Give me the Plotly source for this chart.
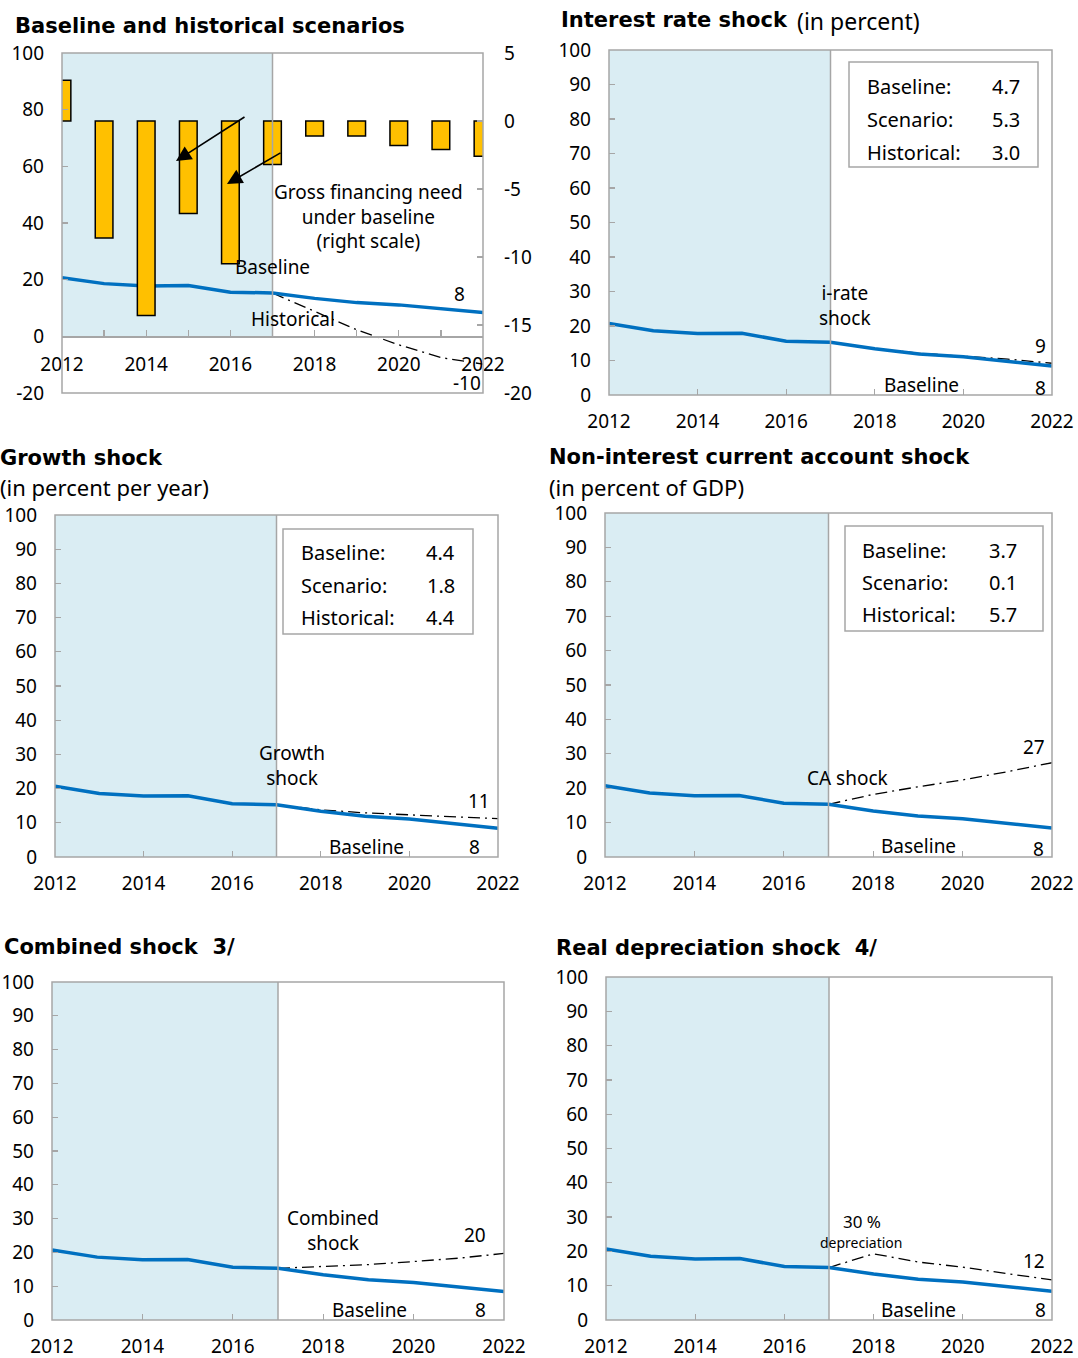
import plotly.graph_objects as go

W, H = 1078, 1358

# ---------------- data ----------------
years = list(range(2012, 2023))
proj_years = list(range(2017, 2023))
baseline = [20.7, 18.6, 17.8, 17.9, 15.6, 15.3, 13.4, 11.9, 11.1, 9.8, 8.4]
gfn_baseline = [3.0, -8.6, -14.3, -6.8, -10.5, -3.2, -1.1, -1.1, -1.8, -2.1, -2.6]
historical = [15.3, 8.8, 2.3, -3.0, -7.5, -9.8]
irate_shock = [15.3, 13.4, 12.1, 11.3, 10.4, 9.2]
growth_shock = [15.3, 13.8, 12.9, 12.3, 11.7, 11.2]
ca_shock = [15.3, 18.2, 20.4, 22.4, 24.8, 27.4]
combined_shock = [15.3, 15.8, 16.4, 17.3, 18.3, 19.7]
depreciation_shock = [15.3, 19.3, 16.9, 15.4, 13.5, 11.7]

left_ticks_p1 = [-20, 0, 20, 40, 60, 80, 100]
right_ticks_p1 = [-20, -15, -10, -5, 0, 5]
ticks_0_100 = list(range(0, 101, 10))
year_ticks_p1 = years
year_labels_p1 = [str(y) if y % 2 == 0 else "" for y in years]
year_ticks = [2012, 2014, 2016, 2018, 2020, 2022]

box_labels = ["Baseline:", "Scenario:", "Historical:"]
irate_box = [4.7, 5.3, 3.0]
growth_box = [4.4, 1.8, 4.4]
ca_box = [3.7, 0.1, 5.7]

# ---------------- style ----------------
FONT = "Noto Sans"
BOLD_FONT = "DejaVu Sans"
BLUE = "#0070C0"
GRAY = "#A6A6A6"
SHADE = "#DAEDF3"
BAR = "#FFC000"
DASHDOT = "12px,5px,2px,5px"
TICKFONT = dict(family=FONT, size=19, color="#000000")


def px_x(x):
    return x / W


def px_y(y):
    return 1 - y / H


def dom_x(a, b):
    return [a / W, b / W]


def dom_y(top, bottom):
    return [1 - bottom / H, 1 - top / H]


# panel boxes (left, right, top, bottom) in pixels
P = {
    1: (62, 483, 53, 393),
    2: (609, 1052, 50, 395),
    3: (55, 498, 515, 857),
    4: (605, 1052, 513, 857),
    5: (52, 504, 982, 1320),
    6: (606, 1052, 977, 1320),
}

fig = go.Figure()
layout = dict(
    width=W, height=H, autosize=False,
    margin=dict(l=0, r=0, t=0, b=0, pad=0, autoexpand=False),
    paper_bgcolor="white", plot_bgcolor="white",
    showlegend=False, hovermode=False,
    font=dict(family=FONT, size=19, color="#000000"),
)
shapes = []
annotations = []

# ---------------- axes ----------------
for n in range(1, 7):
    l, r, t, b = P[n]
    xs = "" if n == 1 else str(n)
    xa = dict(
        domain=dom_x(l, r), range=[2012, 2022], ticks="inside", ticklen=6,
        tickcolor=GRAY, tickwidth=1.3, showgrid=False, zeroline=False,
        tickfont=TICKFONT, ticklabelstandoff=13, fixedrange=True,
    )
    ya = dict(
        domain=dom_y(t, b), ticks="inside", ticklen=6, tickcolor=GRAY,
        tickwidth=1.3, showgrid=False, zeroline=False, tickfont=TICKFONT,
        ticklabelstandoff=17, fixedrange=True,
    )
    if n == 1:
        zero_px = b - (b - t) * 20 / 120
        xa.update(anchor="free", position=px_y(zero_px), tickmode="array",
                  tickvals=year_ticks_p1, ticktext=year_labels_p1,
                  showline=True, linecolor=GRAY, linewidth=1.5,
                  ticklabelstandoff=10)
        ya.update(anchor="x", range=[-20, 100], tickmode="array",
                  tickvals=left_ticks_p1, ticktext=[str(v) for v in left_ticks_p1])
    else:
        xa.update(anchor="y" + xs, tickmode="array", tickvals=year_ticks)
        ya.update(anchor="x" + xs, range=[0, 100], tickmode="array",
                  tickvals=ticks_0_100)
    layout["xaxis" + xs] = xa
    layout["yaxis" + xs] = ya
    # frame
    shapes.append(dict(type="rect", xref=f"x{xs} domain", yref=f"y{xs} domain",
                       x0=0, x1=1, y0=0, y1=1, line=dict(color=GRAY, width=1.5),
                       layer="above"))
    # historical shading and divider
    shapes.append(dict(type="rect", xref="x" + xs, yref="y" + xs, x0=2012, x1=2017,
                       y0=0, y1=100, fillcolor=SHADE, line=dict(width=0),
                       layer="below"))
    shapes.append(dict(type="line", xref="x" + xs, yref="y" + xs, x0=2017, x1=2017,
                       y0=0, y1=100, line=dict(color=GRAY, width=1.5),
                       layer="above"))

# right axis for panel 1 (gross financing need)
layout["yaxis7"] = dict(
    overlaying="y", side="right", anchor="x", range=[-20, 5], tickmode="array",
    tickvals=right_ticks_p1, ticktext=[str(v) for v in right_ticks_p1],
    ticks="inside", ticklen=6, tickcolor=GRAY,
    tickwidth=1.3, showgrid=False, zeroline=False, tickfont=TICKFONT,
    ticklabelstandoff=20, fixedrange=True,
)

# ---------------- traces ----------------
fig.add_trace(go.Bar(x=years, y=gfn_baseline, xaxis="x", yaxis="y7", width=0.42,
                     marker=dict(color=BAR, line=dict(color="#000000", width=1.5))))
fig.add_trace(go.Scatter(x=proj_years, y=historical, xaxis="x", yaxis="y", mode="lines",
                         line=dict(color="#000000", width=1.3, dash=DASHDOT)))
fig.add_trace(go.Scatter(x=years, y=baseline, xaxis="x", yaxis="y", mode="lines",
                         line=dict(color=BLUE, width=3.5)))

scen = {2: irate_shock, 3: growth_shock, 4: ca_shock, 5: combined_shock,
        6: depreciation_shock}
for n, s in scen.items():
    fig.add_trace(go.Scatter(x=proj_years, y=s, xaxis=f"x{n}", yaxis=f"y{n}",
                             mode="lines",
                             line=dict(color="#000000", width=1.3, dash=DASHDOT)))
    fig.add_trace(go.Scatter(x=years, y=baseline, xaxis=f"x{n}", yaxis=f"y{n}",
                             mode="lines", line=dict(color=BLUE, width=3.5)))


# ---------------- text ----------------
def ann(text, x, y, size=19, xanchor="center", align="center", family=FONT):
    annotations.append(dict(text=text, x=px_x(x), y=px_y(y), xref="paper",
                            yref="paper", xanchor=xanchor, yanchor="middle",
                            showarrow=False, align=align,
                            font=dict(family=family, size=size, color="#000000")))


# titles
ann("<b>Baseline and historical scenarios</b>", 13, 26, size=21, xanchor="left",
    family=BOLD_FONT)
ann("<b>Interest rate shock</b>", 559, 20, size=21, xanchor="left", family=BOLD_FONT)
ann("(in percent)", 795, 21, size=23, xanchor="left")
ann("<b>Growth shock</b>", -2, 458, size=21, xanchor="left", family=BOLD_FONT)
ann("(in percent per year)", -2, 487, size=22, xanchor="left")
ann("<b>Non-interest current account shock</b>", 547, 457, size=21, xanchor="left",
    family=BOLD_FONT)
ann("(in percent of GDP)", 547, 487, size=22, xanchor="left")
ann("<b>Combined shock  3/</b>", 2, 947, size=21, xanchor="left", family=BOLD_FONT)
ann("<b>Real depreciation shock  4/</b>", 554, 948, size=21, xanchor="left",
    family=BOLD_FONT)

# panel 1
ann("Gross financing need<br>under baseline<br>(right scale)", 368, 216)
ann("Baseline", 273, 267)
ann("Historical", 293, 319)
ann(f"{round(baseline[-1])}", 459, 294)
ann(f"{round(historical[-1])}", 467, 383)
for (hx, hy, tx, ty) in [(176, 161, 246, 116), (227, 184, 282, 152)]:
    annotations.append(dict(text="", x=px_x(hx), y=px_y(hy), xref="paper", yref="paper",
                            ax=tx - hx, ay=ty - hy, axref="pixel", ayref="pixel",
                            showarrow=True, arrowhead=2, arrowsize=1.9,
                            arrowwidth=1.6, arrowcolor="#000000"))

# panel 2
ann("i-rate<br>shock", 845, 305)
ann(f"{round(irate_shock[-1])}", 1040, 346)
ann(f"{round(baseline[-1])}", 1040, 388)
ann("Baseline", 921, 385)

# panel 3
ann("Growth<br>shock", 292, 765)
ann(f"{round(growth_shock[-1])}", 479, 801)
ann(f"{round(baseline[-1])}", 474, 847)
ann("Baseline", 366, 847)

# panel 4
ann("CA shock", 848, 778)
ann(f"{round(ca_shock[-1])}", 1034, 747)
ann(f"{round(baseline[-1])}", 1038, 849)
ann("Baseline", 918, 846)

# panel 5
ann("Combined<br>shock", 333, 1230)
ann(f"{round(combined_shock[-1])}", 475, 1235)
ann(f"{round(baseline[-1])}", 480, 1310)
ann("Baseline", 369, 1310)

# panel 6
ann("30 %", 862, 1221, size=17)
ann("depreciation", 861, 1242, size=14)
ann(f"{round(depreciation_shock[-1])}", 1034, 1261)
ann(f"{round(baseline[-1])}", 1040, 1310)
ann("Baseline", 918, 1310)

# stat boxes
boxes = [
    ((849, 1038, 62, 167), 865, 1022, [87, 119, 152], irate_box),
    ((283, 473, 529, 634), 299, 457, [552, 585, 618], growth_box),
    ((845, 1043, 526, 631), 860, 1019, [550, 582, 615], ca_box),
]
for (bl, br, bt, bb), lx, vx, ys, vals in boxes:
    shapes.append(dict(type="rect", xref="paper", yref="paper", x0=px_x(bl),
                       x1=px_x(br), y0=px_y(bb), y1=px_y(bt), fillcolor="white",
                       line=dict(color=GRAY, width=1.5), layer="above"))
    for lab, yy, v in zip(box_labels, ys, vals):
        ann(lab, lx, yy, size=20, xanchor="left", align="left")
        ann(f"{v:.1f}", vx, yy, size=20, xanchor="right", align="right")

layout["shapes"] = shapes
layout["annotations"] = annotations
fig.update_layout(**layout)
fig.write_html(
    "out.html",
    config={"displayModeBar": False, "staticPlot": True},
    post_script="document.body.style.margin='0';document.body.style.overflow='hidden';",
)
